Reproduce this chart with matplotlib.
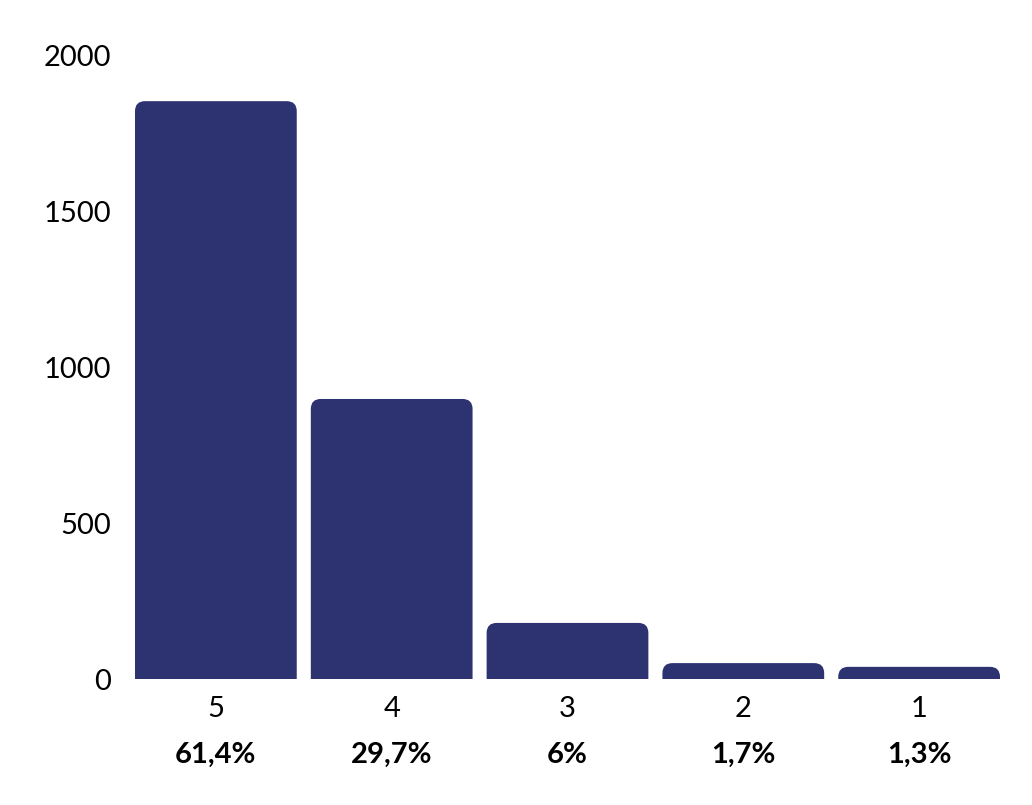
import numpy as np
import matplotlib
matplotlib.use("Agg")
import matplotlib.pyplot as plt
from matplotlib.path import Path
from matplotlib.patches import PathPatch

# data
ratings = ['5', '4', '3', '2', '1']
counts = [1855, 899, 180, 51, 39]
shares = ['61,4%', '29,7%', '6%', '1,7%', '1,3%']

bar_color = '#2c3370'
plt.rcParams['font.family'] = ['Lato', 'DejaVu Sans']

fig = plt.figure(figsize=(10.32, 8.05), dpi=100)
ax = fig.add_axes([135 / 1032, 1 - 679 / 805, 865 / 1032, 623 / 805])

x = np.arange(len(ratings))
width = 0.92
bars = ax.bar(x, counts, width=width, color=bar_color)
ax.set_xlim(-0.46, len(ratings) - 1 + 0.46)
ax.set_ylim(0, 2000)

# swap plain bars for ones with rounded top corners
fig.canvas.draw()
r_px = 10
px_x = (ax.get_xlim()[1] - ax.get_xlim()[0]) / ax.bbox.width
px_y = (ax.get_ylim()[1] - ax.get_ylim()[0]) / ax.bbox.height
for b in bars:
    x0, y0 = b.get_x(), b.get_y()
    x1, y1 = x0 + b.get_width(), y0 + b.get_height()
    rx = r_px * px_x
    ry = min(r_px * px_y, b.get_height())
    verts = [(x0, y0), (x0, y1 - ry), (x0, y1), (x0 + rx, y1),
             (x1 - rx, y1), (x1, y1), (x1, y1 - ry), (x1, y0), (x0, y0)]
    codes = [Path.MOVETO, Path.LINETO, Path.CURVE3, Path.CURVE3,
             Path.LINETO, Path.CURVE3, Path.CURVE3, Path.LINETO, Path.CLOSEPOLY]
    ax.add_patch(PathPatch(Path(verts, codes), facecolor=bar_color,
                           edgecolor='none'))
    b.remove()

ax.set_xticks(x)
ax.set_xticklabels(ratings, fontsize=21)
ax.set_yticks([0, 500, 1000, 1500, 2000])
ax.tick_params(axis='both', length=0)
ax.tick_params(axis='x', pad=12)
ax.tick_params(axis='y', pad=17, labelsize=21)
for s in ax.spines.values():
    s.set_visible(False)

for xi, label in zip(x, shares):
    ax.text(xi, -0.122, label, transform=ax.get_xaxis_transform(),
            ha='center', va='center', fontsize=21, fontweight='bold')

fig.savefig('out.png', dpi=100)
